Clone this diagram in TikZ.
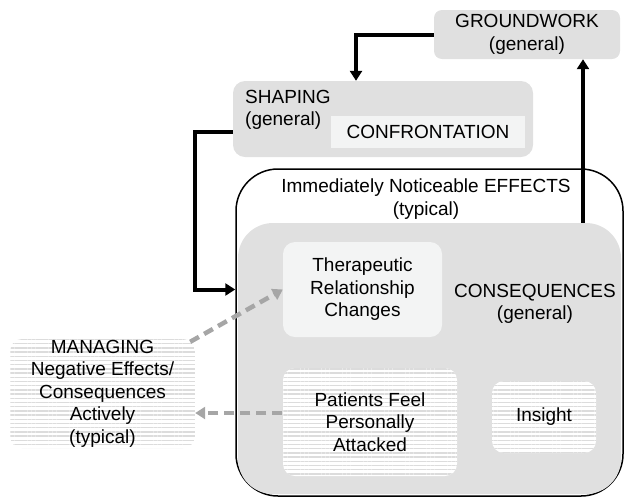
\documentclass[tikz,border=0pt]{standalone}
\usepackage{fontspec}
\setmainfont{Liberation Sans}
\usepackage{tikz}
\usetikzlibrary{arrows.meta, patterns.meta}

\definecolor{boxgray}{HTML}{E0E0E0}
\definecolor{boxlight}{HTML}{F3F4F4}
\definecolor{arrowgray}{HTML}{A6A6A6}
\definecolor{stripegray}{HTML}{DCDCDC}

\begin{document}
\begin{tikzpicture}[x=1pt, y=-1pt,
    every node/.style={font=\fontsize{19}{22.5}\selectfont, align=center, inner sep=0pt},
    graybox/.style={fill=boxgray, rounded corners=8pt},
    lightbox/.style={fill=boxlight, rounded corners=12pt},
    stripebox/.style={preaction={fill=white},
      pattern={Lines[angle=0, distance=4.2pt, line width=1.4pt]},
      pattern color=stripegray, rounded corners=12pt},
    flow/.style={line width=4pt, -{Triangle[length=10pt, width=12pt]}},
    dasharrow/.style={arrowgray, line width=4.5pt, dash pattern=on 10pt off 6pt,
      -{Triangle[length=10pt, width=12pt]}}]
  \useasboundingbox (0,0) rectangle (626,499);

  % Groundwork and shaping
  \node[graybox, minimum width=186pt, minimum height=49pt] (groundwork) at (527,34.5) {GROUNDWORK\\(general)};
  \node[graybox, rounded corners=12pt, minimum width=300pt, minimum height=76pt] (shaping) at (383,119) {};
  \node[anchor=west, align=left] (shapinglabel) at (245,110) {SHAPING\\(general)};
  \node[fill=boxlight, minimum width=194pt, minimum height=32pt] (confrontation) at (428,132) {CONFRONTATION};

  % Effects frame with consequences inside
  \node[draw, line width=1.5pt, rounded corners=42pt, minimum width=387pt, minimum height=327pt] (effects) at (429.5,332.5) {};
  \node (effectslabel) at (426,199) {Immediately Noticeable EFFECTS\\(typical)};
  \node[fill=boxgray, rounded corners=35pt, minimum width=383pt, minimum height=271pt] (consequences) at (429.5,358.5) {};
  \node (consequenceslabel) at (535,304) {CONSEQUENCES\\(general)};

  \node[lightbox, minimum width=159pt, minimum height=95pt] (therapeutic) at (362.5,289.5) {Therapeutic\\Relationship\\Changes};
  \node[stripebox, minimum width=174pt, minimum height=108pt] (patients) at (370,422) {Patients Feel\\Personally\\Attacked};
  \node[stripebox, minimum width=104pt, minimum height=72pt] (insight) at (544,417) {Insight};

  % Managing (outside)
  \node[stripebox, minimum width=185pt, minimum height=109pt] (managing) at (102.5,393.5) {MANAGING\\Negative Effects/\\Consequences\\Actively\\(typical)};

  % Black flow arrows
  \draw[flow] (groundwork.west) -| ([xshift=-27pt]shaping.north);
  \draw[flow] ([yshift=-13pt]shaping.west) -- ++(-38,0) |- (effects.west |- therapeutic);
  \coordinate (cq) at ([xshift=153.5pt]consequences.north);
  \draw[flow] (cq) -- (cq |- groundwork.south);

  % Gray dashed arrows
  \draw[dasharrow] ([xshift=-5pt,yshift=-3pt]managing.north east) -- (therapeutic.west);
  \coordinate (pa) at ([yshift=9pt]patients.west);
  \draw[dasharrow] (pa) -- (pa -| managing.east);
\end{tikzpicture}
\end{document}
